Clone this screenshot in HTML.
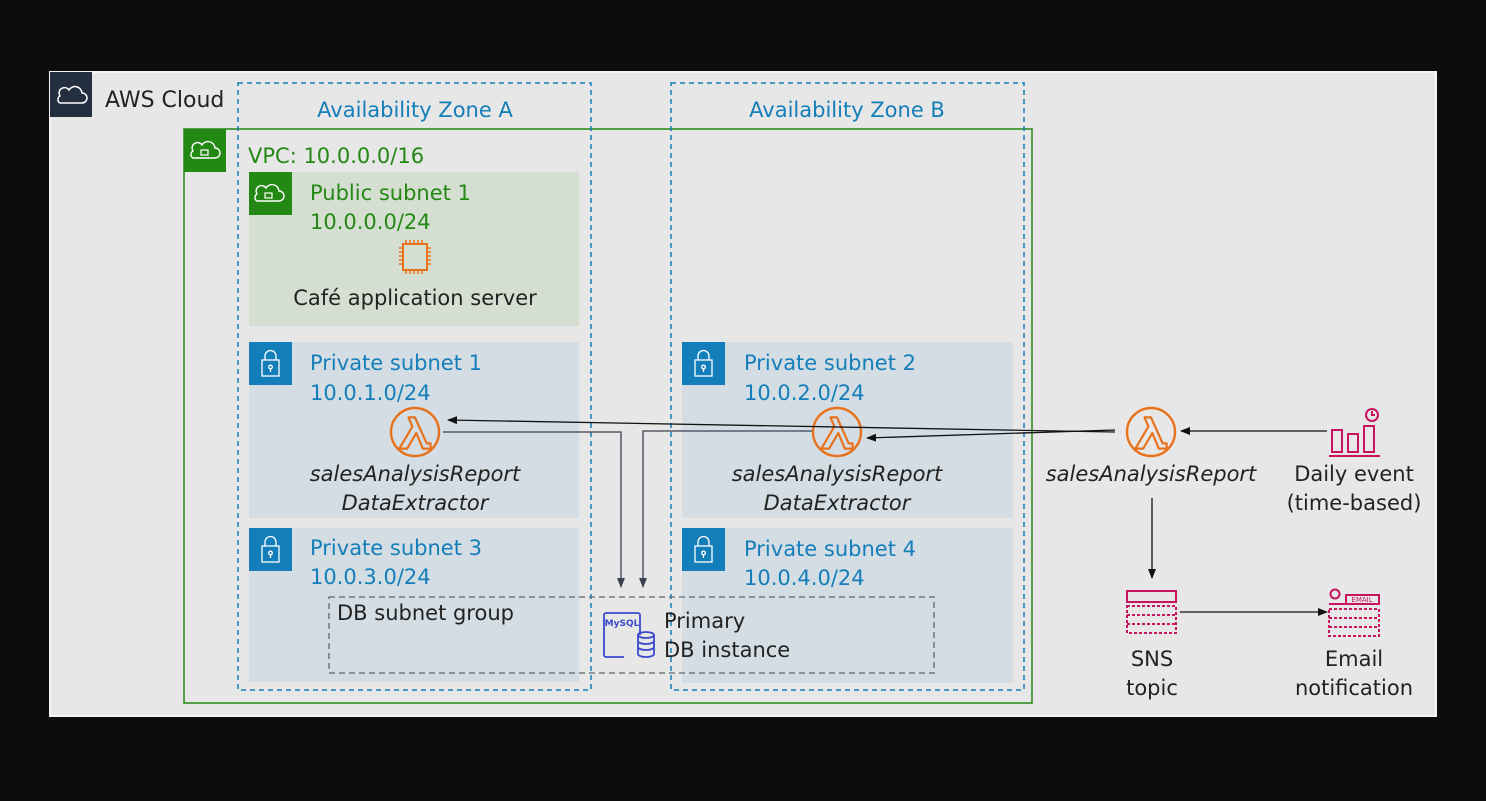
<!DOCTYPE html>
<html><head><meta charset="utf-8"><style>
html,body{margin:0;padding:0;background:#0d0d0d;width:1486px;height:801px;overflow:hidden}
svg{display:block}
text{font-family:"DejaVu Sans","Liberation Sans",sans-serif}
</style></head><body>
<svg width="1486" height="801" viewBox="0 0 1486 801" xmlns="http://www.w3.org/2000/svg">
<defs>
<marker id="a" markerWidth="10" markerHeight="8" refX="9" refY="4" orient="auto" markerUnits="userSpaceOnUse"><path d="M0,0 L10,4 L0,8 z" fill="#111"/></marker>
<marker id="g" markerWidth="10" markerHeight="8" refX="9" refY="4" orient="auto" markerUnits="userSpaceOnUse"><path d="M0,0 L10,4 L0,8 z" fill="#3a4350"/></marker>
</defs>
<rect x="50" y="72" width="1386" height="644" fill="#e7e7e7" stroke="#f5f5f5" stroke-width="2"/>
<rect x="50" y="72" width="42" height="45" fill="#232f3e"/>
<path d="M60,103 h22 a5,5 0 0 0 0,-10 a7,7 0 0 0 -13,-3 a5,5 0 0 0 -9,6 a4,4 0 0 0 0,7z" fill="none" stroke="#fff" stroke-width="1.5"/>
<text x="105" y="107" font-size="22" fill="#222">AWS Cloud</text>

<rect x="184" y="129" width="848" height="574" fill="none" stroke="#248814" stroke-width="1.5"/>
<rect x="184" y="129" width="42" height="43" fill="#248814"/>
<path d="M193,158 h22 a5,5 0 0 0 0,-10 a7,7 0 0 0 -13,-3 a5,5 0 0 0 -9,6 a4,4 0 0 0 0,7z" fill="none" stroke="#fff" stroke-width="1.4"/>
<rect x="201" y="150" width="7" height="5" fill="none" stroke="#fff" stroke-width="1.2"/>
<text x="248" y="163" font-size="21" fill="#248814">VPC: 10.0.0.0/16</text>

<rect x="249" y="172" width="330" height="154" fill="#d5dfd1"/>
<rect x="249" y="172" width="43" height="43" fill="#248814"/>
<path d="M257,201 h22 a5,5 0 0 0 0,-10 a7,7 0 0 0 -13,-3 a5,5 0 0 0 -9,6 a4,4 0 0 0 0,7z" fill="none" stroke="#fff" stroke-width="1.4"/>
<rect x="265" y="193" width="7" height="5" fill="none" stroke="#fff" stroke-width="1.2"/>
<text x="310" y="200" font-size="21" fill="#248814">Public subnet 1</text>
<text x="310" y="229" font-size="21" fill="#248814">10.0.0.0/24</text>
<rect x="403" y="244" width="24" height="26" fill="none" stroke="#e8721c" stroke-width="2"/>
<path d="M406,244v-4M410,244v-4M414,244v-4M418,244v-4M422,244v-4M406,270v4M410,270v4M414,270v4M418,270v4M422,270v4M403,248h-4M403,252h-4M403,256h-4M403,260h-4M403,264h-4M427,248h4M427,252h4M427,256h4M427,260h4M427,264h4" stroke="#e8721c" stroke-width="1.5"/>
<text x="415" y="305" font-size="21" fill="#222" text-anchor="middle">Café application server</text>

<g fill="#d3dde3"><rect x="249" y="342" width="330" height="176"/><rect x="682" y="342" width="331" height="176"/><rect x="249" y="528" width="330" height="154"/><rect x="682" y="528" width="331" height="155"/></g>
<g fill="#147eba"><rect x="249" y="342" width="43" height="43"/><rect x="682" y="342" width="43" height="43"/><rect x="249" y="528" width="43" height="43"/><rect x="682" y="528" width="43" height="43"/></g>
<g fill="none" stroke="#fff" stroke-width="1.3">
<g transform="translate(249,342)"><rect x="13" y="18" width="17" height="16"/><path d="M16,18v-4a5.5,5.5 0 0 1 11,0v4"/><circle cx="21.5" cy="25" r="1.8"/><path d="M21.5,27v3"/></g>
<g transform="translate(682,342)"><rect x="13" y="18" width="17" height="16"/><path d="M16,18v-4a5.5,5.5 0 0 1 11,0v4"/><circle cx="21.5" cy="25" r="1.8"/><path d="M21.5,27v3"/></g>
<g transform="translate(249,528)"><rect x="13" y="18" width="17" height="16"/><path d="M16,18v-4a5.5,5.5 0 0 1 11,0v4"/><circle cx="21.5" cy="25" r="1.8"/><path d="M21.5,27v3"/></g>
<g transform="translate(682,528)"><rect x="13" y="18" width="17" height="16"/><path d="M16,18v-4a5.5,5.5 0 0 1 11,0v4"/><circle cx="21.5" cy="25" r="1.8"/><path d="M21.5,27v3"/></g>
</g>
<g font-size="21" fill="#147eba">
<text x="310" y="370">Private subnet 1</text><text x="310" y="400">10.0.1.0/24</text>
<text x="744" y="370">Private subnet 2</text><text x="744" y="400">10.0.2.0/24</text>
<text x="310" y="555">Private subnet 3</text><text x="310" y="584">10.0.3.0/24</text>
<text x="744" y="556">Private subnet 4</text><text x="744" y="585">10.0.4.0/24</text>
</g>

<rect x="238" y="83" width="353" height="607" fill="none" stroke="#147eba" stroke-width="1.5" stroke-dasharray="5,4"/>
<rect x="671" y="83" width="353" height="607" fill="none" stroke="#147eba" stroke-width="1.5" stroke-dasharray="5,4"/>
<text x="415" y="117" font-size="21" fill="#147eba" text-anchor="middle">Availability Zone A</text>
<text x="847" y="117" font-size="21" fill="#147eba" text-anchor="middle">Availability Zone B</text>

<rect x="329" y="597" width="605" height="76" fill="none" stroke="#5a6673" stroke-width="1.3" stroke-dasharray="6,4"/>
<text x="337" y="620" font-size="21" fill="#222">DB subnet group</text>
<g fill="none" stroke="#3b48cc" stroke-width="1.8">
<path d="M640,635 v-20 a2,2 0 0 0 -2,-2 h-32 a2,2 0 0 0 -2,2 v40 a2,2 0 0 0 2,2 h18"/>
<ellipse cx="646" cy="635" rx="8" ry="3"/><path d="M638,635v19a8,3 0 0 0 16,0v-19M638,641a8,3 0 0 0 16,0M638,647a8,3 0 0 0 16,0"/>
</g>
<text x="622" y="626" font-size="9" font-weight="bold" fill="#3b48cc" text-anchor="middle">MySQL</text>
<text x="664" y="628" font-size="21" fill="#222">Primary</text>
<text x="664" y="657" font-size="21" fill="#222">DB instance</text>

<g fill="none" stroke="#e8721c" stroke-width="2.4">
<circle cx="415" cy="432" r="24"/><circle cx="837" cy="432" r="24"/><circle cx="1151" cy="432" r="24"/>
</g>
<g fill="none" stroke="#e8721c" stroke-width="1.7" stroke-linejoin="round">
<path transform="translate(415,433) scale(1.3)" d="M-12,12 L-2,-5 L-5,-12 L0,-12 L9,8 L12,8 L12,12 L6,12 L1,0 L-6,12z"/>
<path transform="translate(837,433) scale(1.3)" d="M-12,12 L-2,-5 L-5,-12 L0,-12 L9,8 L12,8 L12,12 L6,12 L1,0 L-6,12z"/>
<path transform="translate(1151,433) scale(1.3)" d="M-12,12 L-2,-5 L-5,-12 L0,-12 L9,8 L12,8 L12,12 L6,12 L1,0 L-6,12z"/>
</g>
<g font-size="21" fill="#222" font-style="italic" text-anchor="middle">
<text x="415" y="481">salesAnalysisReport</text><text x="415" y="510">DataExtractor</text>
<text x="837" y="481">salesAnalysisReport</text><text x="837" y="510">DataExtractor</text>
<text x="1151" y="481">salesAnalysisReport</text>
</g>

<g fill="none" stroke-width="1.3">
<path d="M1115,432 L448,420" stroke="#111" marker-end="url(#a)"/>
<path d="M1115,430 L867,438" stroke="#111" marker-end="url(#a)"/>
<path d="M443,432 H621 V587" stroke="#3a4350" marker-end="url(#g)"/>
<path d="M812,431 H643 V587" stroke="#3a4350" marker-end="url(#g)"/>
<path d="M1327,431 H1181" stroke="#111" marker-end="url(#a)"/>
<path d="M1152,498 V578" stroke="#111" marker-end="url(#a)"/>
<path d="M1180,612 H1327" stroke="#111" marker-end="url(#a)"/>
</g>

<g fill="none" stroke="#c7135e" stroke-width="2">
<rect x="1332" y="430" width="10" height="22"/><rect x="1348" y="434" width="10" height="18"/><rect x="1364" y="426" width="10" height="26"/>
<path d="M1329,456 H1380"/><circle cx="1372" cy="415" r="6"/><path d="M1372,411v4h3"/>
</g>
<text x="1354" y="481" font-size="21" fill="#222" text-anchor="middle">Daily event</text>
<text x="1354" y="510" font-size="21" fill="#222" text-anchor="middle">(time-based)</text>

<g fill="none" stroke="#c7135e" stroke-width="2">
<rect x="1127" y="591" width="49" height="11"/>
<rect x="1127" y="606" width="49" height="27" stroke-dasharray="3,2"/>
<path d="M1127,615h49M1127,624h49" stroke-dasharray="3,2"/>
<circle cx="1335" cy="594" r="4.5"/><rect x="1346" y="595" width="33" height="9"/><path d="M1329,604h50"/>
<rect x="1329" y="609" width="50" height="27" stroke-dasharray="3,2"/>
<path d="M1329,618h50M1329,627h50" stroke-dasharray="3,2"/>
</g>
<text x="1362" y="602" font-size="7" fill="#c7135e" text-anchor="middle">EMAIL</text>
<g font-size="21" fill="#222" text-anchor="middle">
<text x="1152" y="666">SNS</text><text x="1152" y="695">topic</text>
<text x="1354" y="666">Email</text><text x="1354" y="695">notification</text>
</g>
</svg>
</body></html>
